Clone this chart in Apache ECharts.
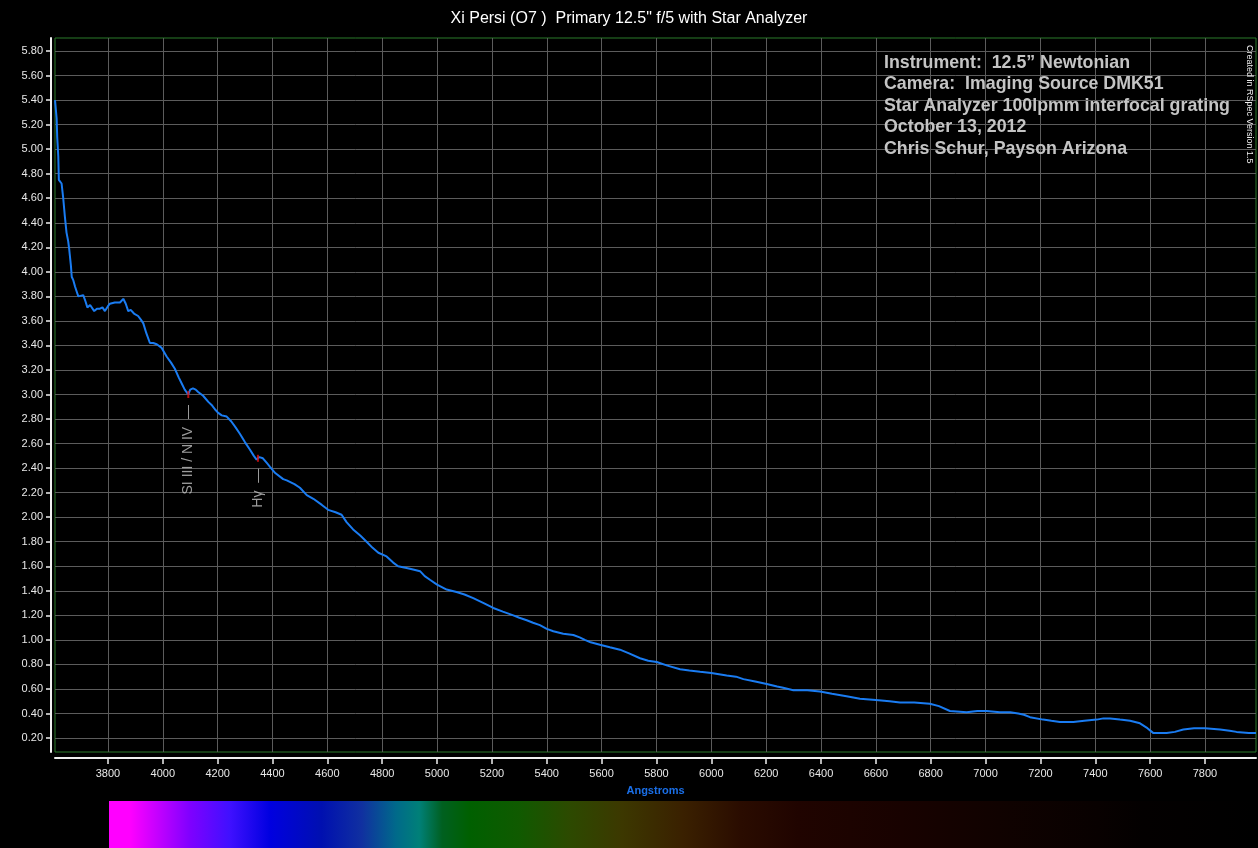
<!DOCTYPE html>
<html>
<head>
<meta charset="utf-8">
<script src="https://cdn.jsdelivr.net/npm/echarts@6/dist/echarts.min.js"></script>
<style>
html,body{margin:0;padding:0;background:#000;}
#chart{width:1258px;height:848px;}
</style>
</head>
<body>
<div id="chart"></div>
<script>
// ---- data ----
const wavelengths = [3607,3613,3615,3619,3621,3631,3637,3643,3649,3655,3659,3665,3668,3674,3680,3686,3692,3698,3710,3718,3725,3735,3742,3750,3760,3771,3780,3789,3800,3807,3825,3844,3856,3865,3874,3883,3895,3910,3920,3929,3940,3953,3965,3978,3996,4014,4030,4044,4058,4069,4080,4093,4100,4110,4120,4129,4147,4166,4180,4190,4202,4215,4233,4250,4266,4281,4300,4318,4332,4342,4352,4365,4380,4391,4410,4439,4452,4480,4500,4525,4549,4580,4603,4630,4652,4670,4694,4720,4743,4765,4786,4816,4840,4858,4880,4901,4920,4938,4955,4974,5000,5035,5071,5100,5132,5170,5205,5240,5278,5300,5327,5350,5375,5400,5424,5460,5497,5520,5539,5560,5594,5630,5667,5700,5740,5770,5801,5840,5886,5920,5959,6000,6056,6090,6117,6160,6202,6240,6262,6299,6350,6396,6440,6493,6542,6600,6650,6688,6740,6797,6830,6870,6931,6970,7004,7052,7090,7119,7140,7162,7210,7240,7271,7320,7360,7405,7430,7454,7490,7527,7563,7590,7612,7660,7690,7721,7760,7800,7855,7890,7915,7960,7986];
const flux = [5.40,5.25,5.10,4.94,4.75,4.72,4.60,4.45,4.32,4.25,4.18,4.05,3.96,3.93,3.88,3.84,3.80,3.80,3.81,3.76,3.71,3.73,3.73,3.68,3.70,3.70,3.71,3.68,3.72,3.74,3.75,3.75,3.78,3.74,3.68,3.69,3.66,3.64,3.61,3.58,3.50,3.42,3.42,3.41,3.38,3.31,3.26,3.21,3.14,3.09,3.04,3.00,3.04,3.05,3.04,3.02,2.99,2.94,2.91,2.88,2.85,2.83,2.82,2.78,2.73,2.68,2.61,2.55,2.50,2.47,2.49,2.48,2.44,2.41,2.36,2.31,2.30,2.27,2.24,2.18,2.15,2.10,2.06,2.04,2.02,1.96,1.90,1.85,1.80,1.75,1.71,1.68,1.63,1.60,1.59,1.58,1.57,1.56,1.52,1.49,1.45,1.41,1.39,1.37,1.34,1.30,1.26,1.23,1.20,1.18,1.16,1.14,1.12,1.09,1.07,1.05,1.04,1.02,1.00,0.98,0.96,0.94,0.92,0.89,0.85,0.83,0.82,0.79,0.76,0.75,0.74,0.73,0.71,0.70,0.68,0.66,0.64,0.62,0.61,0.59,0.59,0.58,0.56,0.54,0.52,0.51,0.50,0.49,0.49,0.48,0.46,0.42,0.41,0.42,0.42,0.41,0.41,0.40,0.39,0.37,0.35,0.34,0.33,0.33,0.34,0.35,0.36,0.36,0.35,0.34,0.32,0.28,0.24,0.24,0.25,0.27,0.28,0.28,0.27,0.26,0.25,0.24,0.24];
const lineWavelengths = [4093, 4347];
const lineFlux = [3.00, 2.48];
const lineNames = ['SI III / N IV  \u2014', 'H\u03b3  \u2014'];
const xTicks = [3800,4000,4200,4400,4600,4800,5000,5200,5400,5600,5800,6000,6200,6400,6600,6800,7000,7200,7400,7600,7800];
const yTicks = [0.2,0.4,0.6,0.8,1.0,1.2,1.4,1.6,1.8,2.0,2.2,2.4,2.6,2.8,3.0,3.2,3.4,3.6,3.8,4.0,4.2,4.4,4.6,4.8,5.0,5.2,5.4,5.6,5.8];
const infoLines = ['Instrument:  12.5\u201d Newtonian','Camera:  Imaging Source DMK51','Star Analyzer 100lpmm interfocal grating','October 13, 2012','Chris Schur, Payson Arizona'];
const titleText = 'Xi Persi (O7 )  Primary 12.5" f/5 with Star Analyzer';

const chart = echarts.init(document.getElementById('chart'));
const FONT = 'Liberation Sans, Arial, sans-serif';
const option = {
  backgroundColor: '#000',
  animation: false,
  title: {
    text: titleText, left: 'center', top: 6,
    textStyle: {color: '#fff', fontSize: 16, fontWeight: 'normal', fontFamily: FONT}
  },
  grid: {left: 55, right: 2, top: 38, bottom: 96, show: true, borderColor: '#2b7a2b', borderWidth: 1, backgroundColor: '#000'},
  xAxis: {
    type: 'value', min: 3607, max: 7986, minInterval: 200, maxInterval: 200,
    offset: 6,
    name: 'Angstroms', nameLocation: 'middle', nameGap: 27,
    nameTextStyle: {color: '#1a6fe8', fontSize: 11, fontWeight: 'bold', fontFamily: FONT},
    axisLine: {show: true, lineStyle: {color: '#f0f0f0', width: 2}},
    axisTick: {show: true, length: 6, lineStyle: {color: '#f0f0f0', width: 1.5}, customValues: xTicks},
    axisLabel: {color: '#e8e8e8', fontSize: 11, fontFamily: FONT, margin: 10, customValues: xTicks,
      formatter: v => String(Math.round(v))},
    splitLine: {show: true, lineStyle: {color: '#5c5c5c', width: 1}}
  },
  yAxis: {
    type: 'value', min: 0.086, max: 5.906, minInterval: 0.2, maxInterval: 0.2,
    offset: 4,
    axisLine: {show: true, lineStyle: {color: '#f0f0f0', width: 2}},
    axisTick: {show: true, length: 5, lineStyle: {color: '#f0f0f0', width: 1.5}, customValues: yTicks},
    axisLabel: {color: '#e8e8e8', fontSize: 11, fontFamily: FONT, margin: 8, customValues: yTicks,
      formatter: v => v.toFixed(2)},
    splitLine: {show: true, lineStyle: {color: '#5c5c5c', width: 1}}
  },
  series: [
    {
      type: 'line', data: wavelengths.map((w, i) => [w, flux[i]]),
      showSymbol: false, symbol: 'none',
      lineStyle: {color: '#1a7cf2', width: 2}, z: 3
    },
    {
      type: 'scatter', symbol: 'rect', symbolSize: [2, 7],
      itemStyle: {color: '#e01010'}, z: 4,
      data: lineWavelengths.map((w, i) => ({name: lineNames[i], value: [w, lineFlux[i]]})),
      label: {
        show: true, formatter: '{b}', position: 'bottom', distance: 7,
        rotate: 90, align: 'right', verticalAlign: 'middle',
        color: '#c4c4c4', fontSize: 14, fontFamily: FONT
      }
    }
  ],
  graphic: [
    {
      type: 'text', x: 884, y: 52, z: 10,
      style: {text: infoLines.join('\n'), fill: '#c4c4c4', font: 'bold 17.8px ' + FONT, lineHeight: 21.5}
    },
    {
      type: 'text', x: 1249, y: 45, rotation: -Math.PI / 2, z: 10,
      style: {text: 'Created in RSpec Version 1.5', fill: '#f0f0f0', font: '9px ' + FONT, textAlign: 'left', textVerticalAlign: 'middle'}
    },
    {
      type: 'rect', shape: {x: 109, y: 801, width: 1149, height: 47}, z: 1,
      style: {
        fill: new echarts.graphic.LinearGradient(0, 0, 1, 0, [
          {offset: 0.000, color: '#ff00ff'},
          {offset: 0.018, color: '#ff00ff'},
          {offset: 0.044, color: '#c000ff'},
          {offset: 0.070, color: '#8000ff'},
          {offset: 0.105, color: '#4010ff'},
          {offset: 0.140, color: '#0000e0'},
          {offset: 0.185, color: '#0010b0'},
          {offset: 0.220, color: '#1030a0'},
          {offset: 0.250, color: '#006a8a'},
          {offset: 0.270, color: '#008078'},
          {offset: 0.290, color: '#006020'},
          {offset: 0.314, color: '#006000'},
          {offset: 0.357, color: '#105a00'},
          {offset: 0.400, color: '#2c4a00'},
          {offset: 0.446, color: '#3c3800'},
          {offset: 0.500, color: '#3a2000'},
          {offset: 0.550, color: '#2a0c00'},
          {offset: 0.600, color: '#200400'},
          {offset: 0.690, color: '#180200'},
          {offset: 0.775, color: '#100200'},
          {offset: 0.860, color: '#080100'},
          {offset: 0.900, color: '#030000'},
          {offset: 1.000, color: '#000000'}
        ])
      }
    }
  ]
};
chart.setOption(option);
</script>
</body>
</html>
